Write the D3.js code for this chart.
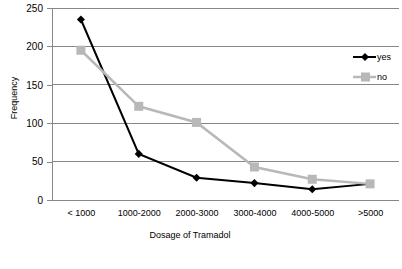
<!DOCTYPE html>
<html lang="en">
<head>
<meta charset="UTF-8">
<title>Tramadol dosage frequency</title>
<script src="https://d3js.org/d3.v7.min.js"></script>
<style>
  body { margin: 0; background: #fff; }
  text { font-family: "Liberation Sans", Arial, sans-serif; fill: #000; }
</style>
</head>
<body>
<svg id="chart" width="402" height="269"></svg>
<script>
// categories and series
const categories = ["< 1000", "1000-2000", "2000-3000", "3000-4000", "4000-5000", ">5000"];
const yesValues = [235, 60, 29, 22, 14, 21];
const noValues = [195, 122, 101, 43, 27, 21];
const yTicks = [0, 50, 100, 150, 200, 250];

const svg = d3.select("#chart");
const margin = {left: 52, right: 3, top: 8, bottom: 69};
const W = 402, H = 269;

const x = d3.scalePoint().domain(categories)
    .range([margin.left, W - margin.right]).padding(0.5);
const y = d3.scaleLinear().domain([0, 250]).range([H - margin.bottom, margin.top]);

// gridlines
svg.append("g").selectAll("line")
    .data(yTicks.filter(d => d > 0)).enter().append("line")
    .attr("x1", margin.left).attr("x2", W - margin.right)
    .attr("y1", d => y(d)).attr("y2", d => y(d))
    .attr("stroke", "#878787").attr("stroke-width", 1)
    .attr("shape-rendering", "crispEdges");

// y axis
const yAxis = svg.append("g")
    .attr("transform", `translate(${margin.left},0)`)
    .call(d3.axisLeft(y).tickValues(yTicks).tickSize(5).tickPadding(4));
yAxis.select(".domain").attr("stroke", "#878787").attr("shape-rendering", "crispEdges");
yAxis.selectAll(".tick line").attr("stroke", "#878787").attr("shape-rendering", "crispEdges");
yAxis.selectAll("text").attr("font-size", 10).attr("font-family", "Liberation Sans, Arial, sans-serif");

// x axis (line only, labels below)
const xAxis = svg.append("g")
    .attr("transform", `translate(0,${y(0)})`)
    .call(d3.axisBottom(x).tickSize(0).tickPadding(10));
xAxis.select(".domain").attr("stroke", "#878787").attr("shape-rendering", "crispEdges")
    .attr("d", `M${margin.left},0H${W - margin.right}`);
xAxis.selectAll("text").attr("font-size", 9).attr("font-family", "Liberation Sans, Arial, sans-serif");

// axis titles
svg.append("text").attr("x", 190).attr("y", 238)
    .attr("text-anchor", "middle").attr("font-size", 9).text("Dosage of Tramadol");
svg.append("text").attr("transform", "translate(17,98) rotate(-90)")
    .attr("text-anchor", "middle").attr("font-size", 9).text("Frequency");

const line = d3.line().x((d, i) => x(categories[i])).y(d => y(d));
const diamond = d3.symbol().type(d3.symbolDiamond2).size(42);

// yes series (black diamonds)
svg.append("path").datum(yesValues).attr("d", line)
    .attr("fill", "none").attr("stroke", "#000").attr("stroke-width", 2);
svg.append("g").selectAll("path").data(yesValues).enter().append("path")
    .attr("d", diamond)
    .attr("transform", (d, i) => `translate(${x(categories[i])},${y(d)})`)
    .attr("fill", "#000");

// no series (gray squares)
svg.append("path").datum(noValues).attr("d", line)
    .attr("fill", "none").attr("stroke", "#b8b8b8").attr("stroke-width", 2.5);
svg.append("g").selectAll("rect").data(noValues).enter().append("rect")
    .attr("x", (d, i) => x(categories[i]) - 4.5).attr("y", d => y(d) - 4.5)
    .attr("width", 9).attr("height", 9).attr("fill", "#b8b8b8");

// legend
const legend = [
  {name: "yes", color: "#000", width: 2, shape: "diamond", y: 57},
  {name: "no", color: "#b8b8b8", width: 2.5, shape: "square", y: 77}
];
const lg = svg.append("g").selectAll("g").data(legend).enter().append("g")
    .attr("transform", d => `translate(0,${d.y})`);
lg.append("line").attr("x1", 353).attr("x2", 376)
    .attr("stroke", d => d.color).attr("stroke-width", d => d.width);
lg.filter(d => d.shape === "diamond").append("path")
    .attr("d", diamond).attr("transform", "translate(365,0)").attr("fill", "#000");
lg.filter(d => d.shape === "square").append("rect")
    .attr("x", 361).attr("y", -4.5).attr("width", 9).attr("height", 9).attr("fill", "#b8b8b8");
lg.append("text").attr("x", 377).attr("y", 3).attr("font-size", 9).text(d => d.name);
</script>
</body>
</html>
